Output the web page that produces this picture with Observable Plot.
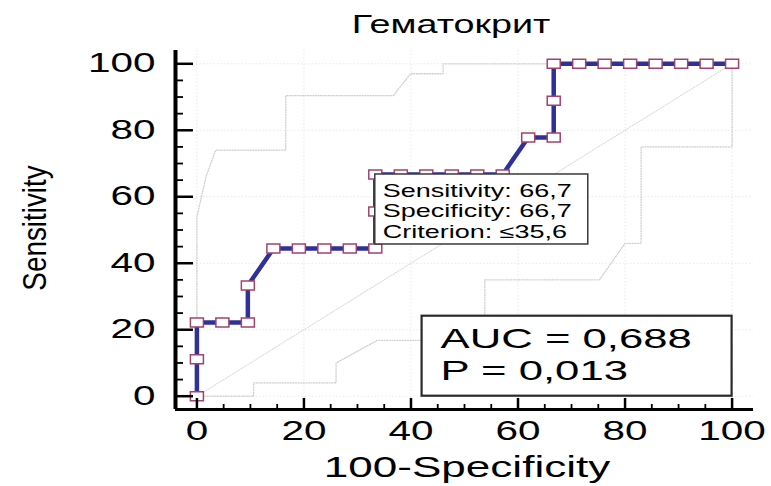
<!DOCTYPE html>
<html><head><meta charset="utf-8">
<script src="https://cdn.jsdelivr.net/npm/d3@7"></script>
<script src="https://cdn.jsdelivr.net/npm/@observablehq/plot@0.6"></script>
<style>
body{margin:0;background:#fff;}
#wrap{width:771px;height:486px;overflow:hidden;}
</style></head><body><div id="wrap"></div>
<script>
// ---- data ----
const title = "Гематокрит";
const xLabel = "100-Specificity";
const yLabel = "Sensitivity";
const rocX = [0,0,0,4.76,9.52,9.52,14.29,19.05,23.81,28.57,33.33,33.33,33.33,38.1,42.86,47.62,52.38,57.14,61.9,66.67,66.67,66.67,71.43,76.19,80.95,85.71,90.48,95.24,100];
const rocY = [0,11.1,22.2,22.2,22.2,33.3,44.4,44.4,44.4,44.4,44.4,55.6,66.7,66.7,66.7,66.7,66.7,66.7,77.8,77.8,88.9,100,100,100,100,100,100,100,100];
const upperX = [0,0,1.7,3.5,16.6,16.6,36.7,39.9,46,46,100];
const upperY = [0,54,66,74,74,90.4,90.4,97,97,100,100];
const lowerX = [0,10.6,10.6,26,26,33.7,53.8,53.8,75.2,80,83,83,100,100];
const lowerY = [0,0,4,4,10,16.8,16.8,35,35,46,46,75,75,100];
const diagX = [0,100];
const diagY = [0,100];
const axisDomain = [-4,104];
const majorTicks = [0,20,40,60,80,100];
const minorTicks = [5,10,15,25,30,35,45,50,55,65,70,75,85,90,95];
const criterionIndex = 12;
const criterionLines = ["Sensitivity: 66,7","Specificity: 66,7","Criterion: ≤35,6"];
const aucLines = ["AUC = 0,688","P = 0,013"];

// ---- build ----
const W = 771, H = 486, mL = 175, mR = 18, mT = 50, mB = 77;
const innerW = W - mL - mR, innerH = H - mT - mB;
const toPts = (xs, ys) => xs.map((x, i) => ({x, y: ys[i]}));
const roc = toPts(rocX, rocY);
const upper = toPts(upperX, upperY);
const lower = toPts(lowerX, lowerY);
const diag = toPts(diagX, diagY);
const FONT = "'Liberation Sans', Arial, sans-serif";
const boxSymbol = {draw(ctx) { ctx.rect(-6.5, -4.5, 13, 9); }};
const faint = {stroke: "#e8e8e8", strokeWidth: 1, strokeDasharray: "1.5,2"};
const band = {x: "x", y: "y", stroke: "#cfcfcf", strokeWidth: 1.3, strokeDasharray: "1,1.6"};

const plot = Plot.plot({
  width: W, height: H,
  marginLeft: mL, marginRight: mR, marginTop: mT, marginBottom: mB,
  style: {fontFamily: FONT, fontSize: "27px", background: "white", color: "black"},
  x: {domain: axisDomain, ticks: majorTicks, tickSize: 0, tickPadding: 11, label: null, tickFormat: d => String(d)},
  y: {domain: axisDomain, ticks: majorTicks, tickSize: 0, tickPadding: 20, label: null, tickFormat: d => String(d)},
  marks: [
    Plot.ruleX(majorTicks, faint),
    Plot.ruleY(majorTicks, faint),
    Plot.line(diag, {x: "x", y: "y", stroke: "#dadada", strokeWidth: 1.1, strokeDasharray: "1,1.6"}),
    Plot.line(upper, band),
    Plot.line(lower, band),
    Plot.line(roc, {x: "x", y: "y", stroke: "#2f3199", strokeWidth: 4.5, strokeLinejoin: "round"}),
    Plot.dot(roc, {x: "x", y: "y", symbol: boxSymbol, r: 4, fill: "white", stroke: "#a0436f", strokeWidth: 1.5}),
    // ticks (inward)
    Plot.ruleX(majorTicks, {insetTop: innerH - 11, stroke: "black", strokeWidth: 2.5}),
    Plot.ruleX(minorTicks, {insetTop: innerH - 5, stroke: "black", strokeWidth: 1.8}),
    Plot.ruleY(majorTicks, {insetRight: innerW - 18, stroke: "black", strokeWidth: 2.5}),
    Plot.ruleY(minorTicks, {insetRight: innerW - 8, stroke: "black", strokeWidth: 1.8}),
    // axis lines
    Plot.ruleX([axisDomain[0]], {stroke: "black", strokeWidth: 4}),
    Plot.ruleY([axisDomain[0]], {stroke: "black", strokeWidth: 3})
  ]
});

const svg = d3.select(plot);
// stretch tick labels horizontally (the reference uses a widened Arial)
function stretch(node, sx, sy) {
  const t = node.getAttribute("transform") || "";
  const xa = node.getAttribute("x");
  let x = 0;
  if (xa != null && !/em/.test(xa)) { x = parseFloat(xa) || 0; node.removeAttribute("x"); }
  node.setAttribute("transform", `${t} translate(${x},0) scale(${sx},${sy})`);
}
svg.selectAll("text").each(function() { stretch(this, 1.5, 1); });

const sx = plot.scale("x"), sy = plot.scale("y");
const X = d3.scaleLinear(sx.domain, sx.range);
const Y = d3.scaleLinear(sy.domain, sy.range);

function addText(g, str, x, y, size, kx, ky, anchor, rot) {
  return g.append("text")
    .attr("transform", `translate(${x},${y})${rot ? ` rotate(${rot})` : ""} scale(${kx},${ky})`)
    .attr("text-anchor", anchor)
    .attr("font-family", FONT)
    .attr("font-size", size)
    .attr("fill", "black")
    .text(str);
}

// criterion box, anchored at the criterion point
const cp = roc[criterionIndex];
const cx = X(cp.x), cy = Y(cp.y);
const cg = svg.append("g");
cg.append("rect").attr("x", cx).attr("y", cy).attr("width", 213).attr("height", 70)
  .attr("fill", "white").attr("stroke", "#3a3a3a").attr("stroke-width", 1.5);
criterionLines.forEach((s, i) => addText(cg, s, cx + 8, cy + 23 + i * 20.3, 18, 1.5, 1, "start"));

// AUC box anchored at the lower-right corner of the unit square
const ax = X(d3.max(majorTicks)), ay = Y(d3.min(majorTicks));
const ag = svg.append("g");
ag.append("rect").attr("x", ax - 310).attr("y", ay - 80).attr("width", 310).attr("height", 80)
  .attr("fill", "white").attr("stroke", "#2a2a2a").attr("stroke-width", 2.2);
aucLines.forEach((s, i) => addText(ag, s, ax - 310 + 19, ay - 80 + 32 + i * 32, 28, 1.56, 1, "start"));

// title and axis labels
addText(svg, title, 451, 33, 25.5, 1.48, 1, "middle");
addText(svg, xLabel, 467, 477, 29, 1.52, 1, "middle");
addText(svg, yLabel, 46, 228, 24, 1.16, 1.4, "middle", -90);

document.getElementById("wrap").appendChild(plot);
</script>
</body></html>
